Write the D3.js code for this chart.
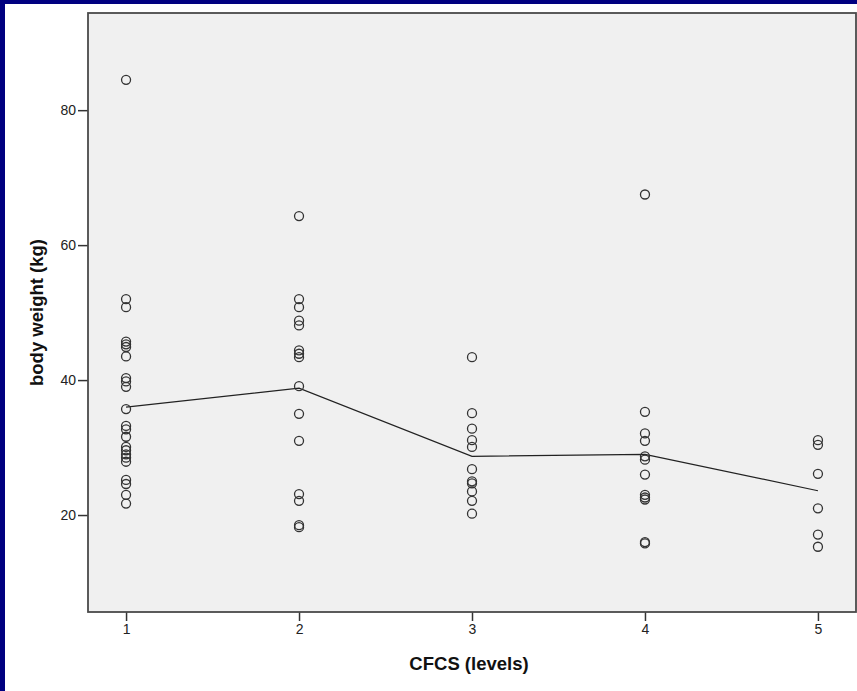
<!DOCTYPE html>
<html><head><meta charset="utf-8">
<script src="https://cdn.jsdelivr.net/npm/d3@7"></script>
<style>
html,body{margin:0;padding:0;background:#fff;}
svg{display:block;}
</style></head>
<body>
<svg id="chart" width="857" height="691"></svg>
<script>
const levels = [1, 2, 3, 4, 5];
const weights1 = [84.5, 52.0, 50.8, 45.7, 45.3, 44.9, 43.5, 40.3, 39.8, 39.0, 35.7, 33.2, 32.7, 31.6, 30.1, 29.6, 29.0, 28.5, 27.9, 25.2, 24.6, 23.0, 21.7];
const weights2 = [64.3, 52.0, 50.8, 48.8, 48.1, 44.4, 43.9, 43.4, 39.1, 35.0, 31.0, 23.1, 22.1, 18.5, 18.2];
const weights3 = [43.4, 35.1, 32.8, 31.1, 30.1, 26.8, 25.0, 24.7, 23.5, 22.1, 20.2];
const weights4 = [67.5, 35.3, 32.1, 31.0, 28.7, 28.2, 26.0, 23.0, 22.6, 22.3, 16.0, 15.8];
const weights5 = [31.1, 30.4, 26.1, 21.0, 17.1, 15.3];
// line through the level means
const meanWeights = [36.0, 38.8, 28.7, 29.0, 23.6];
const yTicks = [20, 40, 60, 80];
const xLabel = "CFCS (levels)";
const yLabel = "body weight (kg)";

const groups = [weights1, weights2, weights3, weights4, weights5];
const points = [];
groups.forEach((g, i) => g.forEach(v => points.push({x: levels[i], y: v})));

const svg = d3.select("#chart");
const L = 88, R = 856, T = 13, B = 612;

// blue slide border (left and top)
svg.append("rect").attr("x", 0).attr("y", 0).attr("width", 857).attr("height", 4).attr("fill", "#000080");
svg.append("rect").attr("x", 0).attr("y", 0).attr("width", 5).attr("height", 691).attr("fill", "#000080");

const x = d3.scaleLinear().domain([0.78, 5.22]).range([L, R]);
const y = d3.scaleLinear().domain([5.63, 94.4]).range([B, T]);

svg.append("rect").attr("x", L).attr("y", T).attr("width", R - L).attr("height", B - T)
  .attr("fill", "#f0f0f0");

const font = "'Liberation Sans', Arial, sans-serif";

const yAxis = svg.append("g").attr("transform", `translate(${L},0)`)
  .call(d3.axisLeft(y).tickValues(yTicks).tickSize(10).tickPadding(2).tickFormat(d3.format("d")));
yAxis.select(".domain").remove();
yAxis.selectAll(".tick line").attr("stroke", "#333").attr("stroke-width", 1.5);
yAxis.selectAll(".tick text").attr("fill", "#222").style("font-family", font).style("font-size", "14px");

const xAxis = svg.append("g").attr("transform", `translate(0,${B})`)
  .call(d3.axisBottom(x).tickValues(levels).tickSize(9).tickPadding(3).tickFormat(d3.format("d")));
xAxis.select(".domain").remove();
xAxis.selectAll(".tick line").attr("stroke", "#333").attr("stroke-width", 1.5);
xAxis.selectAll(".tick text").attr("fill", "#222").style("font-family", font).style("font-size", "14px");

// frame
svg.append("rect").attr("x", L).attr("y", T).attr("width", R - L).attr("height", B - T)
  .attr("fill", "none").attr("stroke", "#4a4a4a").attr("stroke-width", 1.8);

// mean line
const line = d3.line().x((d, i) => x(levels[i])).y(d => y(d));
svg.append("path").datum(meanWeights).attr("d", line)
  .attr("fill", "none").attr("stroke", "#222").attr("stroke-width", 1.2);

// points
svg.append("g").selectAll("circle").data(points).join("circle")
  .attr("cx", d => x(d.x)).attr("cy", d => y(d.y)).attr("r", 4.5)
  .attr("fill", "none").attr("stroke", "#333").attr("stroke-width", 1.3);

// axis titles
svg.append("text").attr("x", 469).attr("y", 670).attr("text-anchor", "middle")
  .style("font-family", font).style("font-size", "18.5px").style("font-weight", "bold")
  .attr("fill", "#111").text(xLabel);
svg.append("text").attr("transform", `translate(43,${(T + B) / 2}) rotate(-90)`)
  .attr("text-anchor", "middle")
  .style("font-family", font).style("font-size", "18.5px").style("font-weight", "bold")
  .attr("fill", "#111").text(yLabel);
</script>
</body></html>
